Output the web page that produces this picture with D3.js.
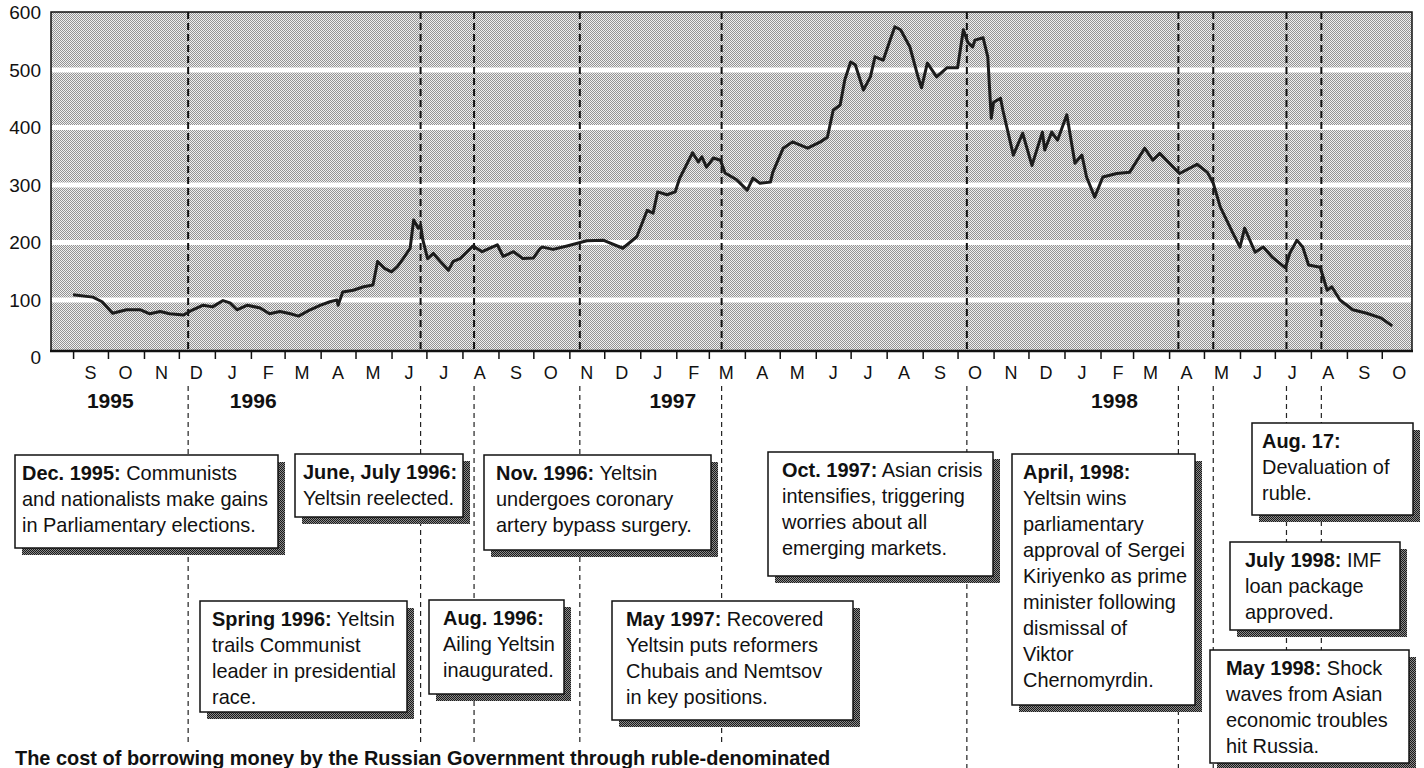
<!DOCTYPE html>
<html>
<head>
<meta charset="utf-8">
<script src="https://cdnjs.cloudflare.com/ajax/libs/d3/7.8.5/d3.min.js"></script>
<style>
  body { margin: 0; background: #fff; }
  svg text { font-family: "Liberation Sans Narrow", "Arial Narrow", "Liberation Sans", sans-serif; fill: #111; }
</style>
</head>
<body>
<svg id="chart" width="1424" height="768"></svg>
<script>
// yield on ruble-denominated treasury bills
const dates = [
  "1995-09-01","1995-09-18","1995-09-26","1995-10-05","1995-10-17","1995-10-29","1995-11-06","1995-11-15",
  "1995-11-23","1995-12-05","1995-12-13","1995-12-22","1995-12-30","1996-01-08","1996-01-14","1996-01-20",
  "1996-01-29","1996-02-09","1996-02-17","1996-02-26","1996-03-06","1996-03-13","1996-03-23","1996-04-01",
  "1996-04-09","1996-04-15","1996-04-16","1996-04-20","1996-04-29","1996-05-08","1996-05-16","1996-05-20",
  "1996-05-26","1996-06-01","1996-06-06","1996-06-11","1996-06-17","1996-06-20","1996-06-24","1996-06-26",
  "1996-06-28","1996-07-02","1996-07-07","1996-07-13","1996-07-20","1996-07-24","1996-07-30","1996-08-05",
  "1996-08-10","1996-08-18","1996-08-31","1996-09-05","1996-09-14","1996-09-22","1996-10-01","1996-10-07",
  "1996-10-09","1996-10-18","1996-10-30","1996-11-16","1996-11-30","1996-12-17","1996-12-29","1997-01-07",
  "1997-01-12","1997-01-16","1997-01-24","1997-01-31","1997-02-04","1997-02-15","1997-02-20","1997-02-23",
  "1997-02-27","1997-03-05","1997-03-11","1997-03-15","1997-03-25","1997-04-03","1997-04-08","1997-04-14",
  "1997-04-23","1997-04-25","1997-05-04","1997-05-12","1997-05-25","1997-06-05","1997-06-11","1997-06-16",
  "1997-06-22","1997-06-26","1997-07-01","1997-07-05","1997-07-12","1997-07-18","1997-07-22","1997-07-29",
  "1997-08-04","1997-08-08","1997-08-13","1997-08-21","1997-08-28","1997-08-31","1997-09-05","1997-09-13",
  "1997-09-22","1997-10-01","1997-10-06","1997-10-10","1997-10-14","1997-10-16","1997-10-23","1997-10-27",
  "1997-10-30","1997-11-01","1997-11-07","1997-11-09","1997-11-18","1997-11-26","1997-12-04","1997-12-13",
  "1997-12-15","1997-12-21","1997-12-26","1998-01-03","1998-01-10","1998-01-16","1998-01-20","1998-01-27",
  "1998-02-03","1998-02-15","1998-02-26","1998-03-11","1998-03-18","1998-03-24","1998-04-10","1998-04-25",
  "1998-05-04","1998-05-09","1998-05-15","1998-05-26","1998-06-01","1998-06-05","1998-06-14","1998-06-21",
  "1998-06-29","1998-07-10","1998-07-14","1998-07-20","1998-07-25","1998-07-30","1998-08-09","1998-08-15",
  "1998-08-19","1998-08-26","1998-09-06","1998-09-18","1998-09-30","1998-10-10"
];
const values = [
  109,105,97,77,83,83,76,80,
  76,74,83,91,88,99,95,83,
  91,86,76,80,76,72,83,91,
  97,100,91,114,117,123,126,167,
  155,149,158,172,190,239,225,230,
  204,172,181,167,152,167,172,184,
  194,184,196,176,184,172,173,190,
  192,188,194,203,204,190,210,256,
  251,288,283,288,312,356,340,349,
  331,347,343,321,309,291,312,303,
  305,322,364,375,364,375,383,430,
  439,483,514,509,465,488,523,517,
  552,575,570,540,488,469,512,488,
  504,504,570,547,540,552,556,523,
  416,444,451,430,352,390,334,392,
  361,392,378,422,338,352,314,279,
  314,320,322,364,343,355,320,336,
  322,303,262,216,192,225,183,192,
  174,156,182,204,192,161,157,117,
  123,100,83,77,69,55
];

const yTicks = [0, 100, 200, 300, 400, 500, 600];
const yearLabels = ["1995", "1996", "1997", "1998"];
const yearDates = ["1995-10-03", "1996-02-03", "1997-01-29", "1998-02-13"];
const eventDates = ["1995-12-09", "1996-06-26", "1996-08-11", "1996-11-10", "1997-03-12",
                    "1997-10-09", "1998-04-09", "1998-05-09", "1998-07-11", "1998-08-10"];

const noteHeads = ["Dec. 1995:", "June, July 1996:", "Nov. 1996:", "Spring 1996:", "Aug. 1996:",
                   "May 1997:", "Oct. 1997:", "April, 1998:", "Aug. 17:", "July 1998:", "May 1998:"];
const noteBodies = [
  [" Communists", "and nationalists make gains", "in Parliamentary elections."],
  ["", "Yeltsin reelected."],
  [" Yeltsin", "undergoes coronary", "artery bypass surgery."],
  [" Yeltsin", "trails Communist", "leader in presidential", "race."],
  ["", "Ailing Yeltsin", "inaugurated."],
  [" Recovered", "Yeltsin puts reformers", "Chubais and Nemtsov", "in key positions."],
  [" Asian crisis", "intensifies, triggering", "worries about all", "emerging markets."],
  ["", "Yeltsin wins", "parliamentary", "approval of Sergei", "Kiriyenko as prime",
   "minister following", "dismissal of", "Viktor", "Chernomyrdin."],
  ["", "Devaluation of", "ruble."],
  [" IMF", "loan package", "approved."],
  [" Shock", "waves from Asian", "economic troubles", "hit Russia."]
];
const caption = "The cost of borrowing money by the Russian Government through ruble-denominated";

// box layout: x, y, w, h, text inset
const noteBoxes = [
  [15, 455, 263, 93, 7], [295, 454, 168, 63, 8], [484, 455, 227, 95, 12],
  [200, 601, 207, 111, 12], [429, 600, 135, 94, 14], [612, 601, 241, 119, 14],
  [768, 452, 225, 124, 14], [1012, 454, 183, 251, 11], [1252, 423, 161, 92, 10],
  [1230, 542, 170, 88, 15], [1210, 650, 199, 113, 16]
];

const squeeze = 0.95;   // no narrow face installed, so condense horizontally

const parse = d3.timeParse("%Y-%m-%d");
const series = dates.map((d, i) => ({date: parse(d), value: values[i]}));

const svg = d3.select("#chart");
const plot = {left: 51, right: 1412, top: 12, bottom: 351};

const x = d3.scaleTime()
    .domain([parse("1995-08-13"), parse("1998-10-27")])
    .range([plot.left, plot.right]);
const y = d3.scaleLinear().domain([0, 600]).range([357.5, 12.5]);

const defs = svg.append("defs");
const bg = defs.append("pattern").attr("id", "stipple")
    .attr("width", 2).attr("height", 2).attr("patternUnits", "userSpaceOnUse");
bg.append("rect").attr("width", 2).attr("height", 2).attr("fill", "#efefef");
bg.append("rect").attr("width", 1).attr("height", 1).attr("fill", "#939393");
bg.append("rect").attr("x", 1).attr("y", 1).attr("width", 1).attr("height", 1).attr("fill", "#939393");

const sh = defs.append("pattern").attr("id", "shade")
    .attr("width", 2).attr("height", 2).attr("patternUnits", "userSpaceOnUse");
sh.append("rect").attr("width", 2).attr("height", 2).attr("fill", "#8a8a8a");
sh.append("rect").attr("width", 1).attr("height", 1).attr("fill", "#1a1a1a");
sh.append("rect").attr("x", 1).attr("y", 1).attr("width", 1).attr("height", 1).attr("fill", "#1a1a1a");

// plot background
svg.append("rect")
    .attr("x", plot.left).attr("y", plot.top)
    .attr("width", plot.right - plot.left).attr("height", plot.bottom - plot.top)
    .attr("fill", "url(#stipple)");

// white gridlines
svg.append("g").selectAll("line")
    .data(yTicks.filter(v => v > 0 && v < 600))
    .join("line")
    .attr("x1", plot.left + 1).attr("x2", plot.right - 1)
    .attr("y1", d => y(d)).attr("y2", d => y(d))
    .attr("stroke", "#fff").attr("stroke-width", 5);

// event markers inside the plot
svg.append("g").selectAll("line")
    .data(eventDates)
    .join("line")
    .attr("x1", d => x(parse(d))).attr("x2", d => x(parse(d)))
    .attr("y1", plot.top).attr("y2", plot.bottom)
    .attr("stroke", "#111").attr("stroke-width", 2)
    .attr("stroke-dasharray", "7,4");

// the yield line
const line = d3.line().x(d => x(d.date)).y(d => y(d.value));
svg.append("path")
    .datum(series)
    .attr("d", line)
    .attr("fill", "none")
    .attr("stroke", "#1c1c1c")
    .attr("stroke-width", 3)
    .attr("stroke-linejoin", "round");

// frame
svg.append("path")
    .attr("d", `M${plot.left},${plot.bottom}V${plot.top}H${plot.right}V${plot.bottom}`)
    .attr("fill", "none").attr("stroke", "#111").attr("stroke-width", 1.5);
svg.append("line")
    .attr("x1", plot.left - 1).attr("x2", plot.right + 1)
    .attr("y1", plot.bottom).attr("y2", plot.bottom)
    .attr("stroke", "#111").attr("stroke-width", 2.5);

// y axis labels
const yAxis = svg.append("g")
    .attr("transform", `translate(${plot.left},0)`)
    .call(d3.axisLeft(y).tickValues(yTicks).tickSize(0).tickPadding(10));
yAxis.select(".domain").remove();
yAxis.selectAll("text")
    .attr("font-size", 19)
    .style("font-family", "'Liberation Sans Narrow', 'Arial Narrow', 'Liberation Sans', sans-serif")
    .attr("fill", "#111");

// month ticks and letters
const months = x.ticks(d3.timeMonth.every(1));
const xAxis = svg.append("g")
    .attr("transform", `translate(0,${plot.bottom})`)
    .call(d3.axisBottom(x).tickValues(months).tickSize(8).tickFormat(""));
xAxis.select(".domain").remove();
xAxis.selectAll("line").attr("stroke", "#111").attr("stroke-width", 1.5);

svg.append("g").selectAll("text")
    .data(months)
    .join("text")
    .attr("x", d => x(d3.timeDay.offset(d, 15)))
    .attr("y", 379)
    .attr("text-anchor", "middle")
    .attr("font-size", 18)
    .text(d => d3.timeFormat("%b")(d)[0]);

// event markers below the axis
svg.append("g").selectAll("line")
    .data(eventDates)
    .join("line")
    .attr("x1", d => x(parse(d))).attr("x2", d => x(parse(d)))
    .attr("y1", 386).attr("y2", 768)
    .attr("stroke", "#222").attr("stroke-width", 1.2)
    .attr("stroke-dasharray", "5,4");

// years
svg.append("g").selectAll("text")
    .data(yearLabels)
    .join("text")
    .attr("x", (d, i) => x(parse(yearDates[i])))
    .attr("y", 408)
    .attr("text-anchor", "middle")
    .attr("font-size", 21)
    .attr("font-weight", "bold")
    .text(d => d);

// annotation boxes
const notes = svg.append("g").selectAll("g")
    .data(noteHeads)
    .join("g");

notes.append("rect")
    .attr("x", (d, i) => noteBoxes[i][0] + 7)
    .attr("y", (d, i) => noteBoxes[i][1] + 7)
    .attr("width", (d, i) => noteBoxes[i][2])
    .attr("height", (d, i) => noteBoxes[i][3])
    .attr("fill", "url(#shade)");

notes.append("rect")
    .attr("x", (d, i) => noteBoxes[i][0])
    .attr("y", (d, i) => noteBoxes[i][1])
    .attr("width", (d, i) => noteBoxes[i][2])
    .attr("height", (d, i) => noteBoxes[i][3])
    .attr("fill", "#fff")
    .attr("stroke", "#111")
    .attr("stroke-width", 1.5);

notes.each(function(head, i) {
    const [bx, by, , , pad] = noteBoxes[i];
    const t = d3.select(this).append("text")
        .attr("transform", `translate(${bx + pad},${by}) scale(${squeeze},1)`)
        .attr("font-size", 21);
    noteBodies[i].forEach((ln, j) => {
        const row = t.append("tspan")
            .attr("x", 0)
            .attr("y", 25 + j * 26);
        if (j === 0) {
            row.append("tspan").attr("font-weight", "bold").text(head);
            if (ln) row.append("tspan").text(ln);
        } else {
            row.text(ln);
        }
    });
});

// caption, partly cut by the page edge
svg.append("rect")
    .attr("x", 0).attr("y", 746).attr("width", 860).attr("height", 22)
    .attr("fill", "#fff");
svg.append("text")
    .attr("transform", `translate(15,765) scale(0.95,1)`)
    .attr("font-size", 21)
    .attr("font-weight", "bold")
    .text(caption);
</script>
</body>
</html>
